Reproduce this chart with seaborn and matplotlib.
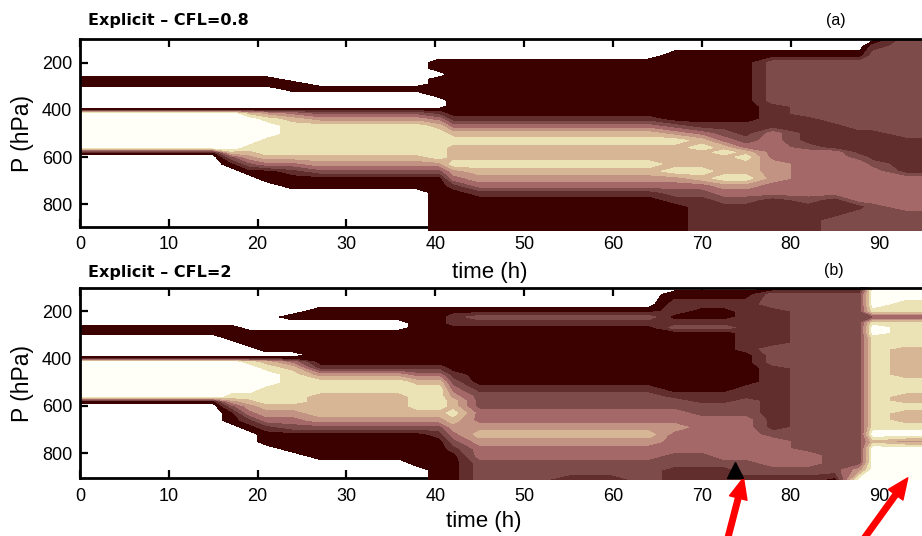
import numpy as np
import matplotlib
matplotlib.use("Agg")
import matplotlib.pyplot as plt
import seaborn as sns

# sample times (h) of the stored profiles
times = [0, 3, 6, 10, 13, 15, 17, 19, 21, 24, 27, 30, 33, 36, 38, 40.5, 42,
         45, 50, 55, 60, 64, 67, 70, 72.5, 75, 78, 82, 85, 87.8, 89.3, 93, 96]

# pressure levels (hPa) of each digit, top to bottom
pressures = [100, 130, 170, 200, 225, 250, 270, 290, 310, 335, 360, 385, 400,
             415, 440, 470, 500, 530, 560, 580, 600, 630, 660, 690, 720, 750,
             780, 810, 840, 870, 912]

# contour class, one string per time, one digit per level
# 0 = blank, 1 = darkest ... 8 = palest
profiles_a = [
    "0000001100001888888100000000000",  # 0
    "0000001100001888888100000000000",  # 3
    "0000001100001888888100000000000",  # 6
    "0000001100001888888100000000000",  # 10
    "0000001100001888888100000000000",  # 13
    "0000001100001888888100000000000",  # 15
    "0000001100001888888631000000000",  # 17
    "0000001100001688887653100000000",  # 19
    "0000001100001578877764110000000",  # 21
    "0000000110001467777764211000000",  # 24
    "0000000010001357777765311000000",  # 27
    "0000000010001357777765311000000",  # 30
    "0000000010001357777765311000000",  # 33
    "0000000010001357777765311000000",  # 36
    "0000000010001357777765311000000",  # 38
    "0001101111001246777775311111111",  # 40.5
    "0001111111111124676667542111111",  # 42
    "0001111111111124676667654211111",  # 45
    "0001111111111124676667654211111",  # 50
    "0001111111111124676667654211111",  # 55
    "0001111111111124676667654211111",  # 60
    "0001111111111124676667654211111",  # 64
    "0011111111111113576666754321111",  # 67
    "0011111111111112467666764322222",  # 70
    "0011111111111112346766675432222",  # 72.5
    "0011111111111112234676675432222",  # 75
    "0013333333322222444445554422222",  # 78
    "0013333333333322223444444432222",  # 82
    "0013333333333332222444444422233",  # 85
    "0013333333333333222234444442333",  # 87.8
    "0233333333333333222223444443333",  # 89.3
    "3333333333333333322222244444333",  # 93
    "3333333333333333322222244444333",  # 96
]

# same for panel (b)
profiles_b = [
    "0000001100001888888100000000000",  # 0
    "0000001100001888888100000000000",  # 3
    "0000001100001888888100000000000",  # 6
    "0000001100001888888100000000000",  # 10
    "0000001100001888888100000000000",  # 13
    "0000001100001888888100000000000",  # 15
    "0000001110001888887531100000000",  # 17
    "0000000111001788887654210000000",  # 19
    "0000000111101678877765421100000",  # 21
    "0000100111101467777765431110000",  # 24
    "0001100111111125776666531111000",  # 27
    "0001100111111125776666531111000",  # 30
    "0001100111111125776666531111000",  # 33
    "0001100111111125776666531111000",  # 36
    "0001111111111124677776531111100",  # 38
    "0001111111111124677776532111111",  # 40.5
    "0001221111111112345667654321111",  # 42
    "0001321111111111123334456544333",  # 45
    "0001321111111111123334456544333",  # 50
    "0001321111111111123334456544332",  # 55
    "0001321111111111123334456544332",  # 60
    "0001321111111111123334456544333",  # 64
    "0122123111111111112334454443322",  # 67
    "0121123111111111112233444443322",  # 70
    "0121123111111111112233444444322",  # 72.5
    "0122222222211111122333444444332",  # 75
    "0332222222333322222222223444432",  # 78
    "0333333333333333333333333334432",  # 82
    "0333333333333333333333333333331",  # 85
    "0333333333333333333333333333358",  # 87.8
    "8887378877777777777777778688888",  # 89.3
    "8877377777666666776676678588888",  # 93
    "8877377777666666776676678588888",  # 96
]

# colours of classes 1..8 (class 0 is left blank)
band_colors = ["#3b0000", "#612d2d", "#7e4b4b", "#a46868",
               "#c29282", "#d6b694", "#ebe2b6", "#fffff8"]

panel_titles = ["Explicit \u2013 CFL=0.8", "Explicit \u2013 CFL=2"]
panel_tags = ["(a)", "(b)"]

# black marker and red arrows on panel (b)
marker_time = [73.7]
marker_pres = [870]
arrow_times = [74.7, 93.2]
arrow_tail_px = [727, 862]

sns.set_theme(style="ticks")
plt.rcParams["font.family"] = ["Liberation Sans", "DejaVu Sans"]

W, H = 922, 536
fig = plt.figure(figsize=(W / 100, H / 100), dpi=100)

# pixel layout of the two panels (top, bottom of the box)
boxes = [(39.3, 226.7), (288.3, 478.3)]
ylims = [(895, 101), (905, 104)]
title_y = [20, 272]
tag_xy = [(836, 20), (834, 271)]
xlabel_xy = [(489.5, 262), (484, 511)]
levels = np.arange(0.5, 9.0, 1.0)

axes = []
for i, profiles in enumerate([profiles_a, profiles_b]):
    assert all(len(s) == len(pressures) for s in profiles)
    assert len(profiles) == len(times)
    top, bot = boxes[i]
    ax = fig.add_axes([80 / W, 1 - bot / H, (W - 80) / W, (bot - top) / H])
    z = np.array([[int(c) for c in s] for s in profiles]).T
    cs = ax.contourf(times, pressures, z, levels=levels, colors=band_colors,
                     zorder=1)
    # field runs a little past the bottom frame, hiding it like the original
    cs.set_clip_on(False)

    ax.set_xlim(0, 94.8)
    ax.set_ylim(*ylims[i])
    ax.set_xticks(np.arange(0, 91, 10))
    ax.set_yticks([200, 400, 600, 800])
    ax.tick_params(axis="both", direction="in", length=6, width=1.6,
                   colors="black", labelsize=13)
    ax.tick_params(axis="x", top=True, pad=7)
    ax.tick_params(axis="y", pad=5.5)
    for side in ["top", "left", "bottom"]:
        ax.spines[side].set_linewidth(2.0)
        ax.spines[side].set_color("black")
    ax.spines["right"].set_visible(False)
    ax.spines["bottom"].set_zorder(0.5)
    ax.xaxis.set_zorder(0.5)

    h = bot - top
    ax.set_xlabel("time (h)", fontsize=16, color="black")
    ax.xaxis.set_label_coords((xlabel_xy[i][0] - 80) / (W - 80),
                              (bot - xlabel_xy[i][1]) / h)
    ax.set_ylabel("P (hPa)", fontsize=16.5, color="black")
    ax.yaxis.set_label_coords((34 - 80) / (W - 80), 0.5)

    fig.text(88 / W, 1 - title_y[i] / H, panel_titles[i], ha="left",
             va="center", fontsize=11.5, fontweight="bold",
             family="DejaVu Sans", color="black")
    fig.text(tag_xy[i][0] / W, 1 - tag_xy[i][1] / H, panel_tags[i],
             ha="center", va="center", fontsize=11.5, color="black")
    axes.append(ax)

ax_b = axes[1]
ax_b.plot(marker_time, marker_pres, linestyle="none", marker="^",
          color="black", markersize=11, zorder=4, clip_on=False)
for t, tail in zip(arrow_times, arrow_tail_px):
    ax_b.annotate("", xy=(t, 903), xycoords="data",
                  xytext=(tail / W, -0.01), textcoords="figure fraction",
                  arrowprops=dict(facecolor="red", edgecolor="red", width=4,
                                  headwidth=13, headlength=15, shrink=0.0),
                  annotation_clip=False)

fig.savefig("out.png", dpi=100)
